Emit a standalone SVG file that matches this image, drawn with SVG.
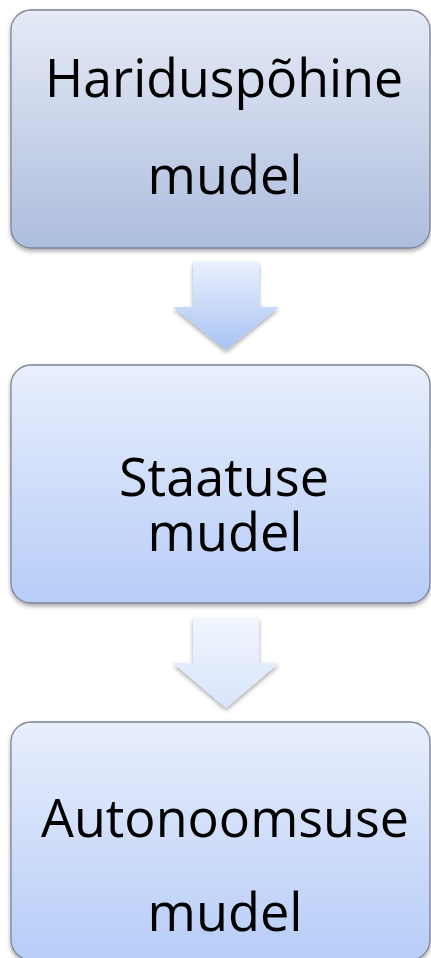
<svg xmlns="http://www.w3.org/2000/svg" width="431" height="958" viewBox="0 0 431 958">
<defs>
<linearGradient id="g1" x1="0" y1="0" x2="0" y2="1"><stop offset="0" stop-color="#e5eaf6"/><stop offset="1" stop-color="#adbddd"/></linearGradient>
<linearGradient id="g2" x1="0" y1="0" x2="0" y2="1"><stop offset="0" stop-color="#e8effd"/><stop offset="1" stop-color="#b7ccf7"/></linearGradient>
<linearGradient id="ga1" x1="0" y1="0" x2="0" y2="1"><stop offset="0" stop-color="#e9f0fd"/><stop offset="1" stop-color="#a8c3f4"/></linearGradient>
<linearGradient id="ga2" x1="0" y1="0" x2="0" y2="1"><stop offset="0" stop-color="#f1f6fe"/><stop offset="1" stop-color="#d8e4fb"/></linearGradient>
<filter id="sh" x="-10%" y="-10%" width="120%" height="125%"><feDropShadow dx="0" dy="2.5" stdDeviation="2" flood-color="#000" flood-opacity="0.35"/></filter>
</defs>
<style>
.box{stroke:#7d8496;stroke-width:1.3;filter:url(#sh)}
.t{font-family:"Open Sans","Liberation Sans",sans-serif;font-size:53px;fill:#000;text-anchor:middle}
</style>
<rect width="431" height="958" fill="#fff"/>
<g id="connectors">
<path d="M193,262 H259 V307 H279 L226,350 L173,307 H193 Z" fill="url(#ga1)" filter="url(#sh)"/>
<path d="M193,618 H259 V663 H279 L226,708 L173,663 H193 Z" fill="url(#ga2)" filter="url(#sh)"/>
</g>
<g id="node1">
<rect class="box" x="11" y="10" width="419" height="238" rx="20" fill="url(#g1)"/>
<text class="t" x="224" y="97" textLength="358" lengthAdjust="spacingAndGlyphs">Hariduspõhine</text>
<text class="t" x="225" y="194" textLength="155" lengthAdjust="spacingAndGlyphs">mudel</text>
</g>
<g id="node2">
<rect class="box" x="11" y="365" width="419" height="238" rx="20" fill="url(#g2)"/>
<text class="t" x="224" y="496" textLength="210" lengthAdjust="spacingAndGlyphs">Staatuse</text>
<text class="t" x="225" y="551" textLength="155" lengthAdjust="spacingAndGlyphs">mudel</text>
</g>
<g id="node3">
<rect class="box" x="11" y="722" width="419" height="238" rx="20" fill="url(#g2)"/>
<text class="t" x="225" y="837" textLength="368" lengthAdjust="spacingAndGlyphs">Autonoomsuse</text>
<text class="t" x="225" y="931" textLength="155" lengthAdjust="spacingAndGlyphs">mudel</text>
</g>
</svg>
